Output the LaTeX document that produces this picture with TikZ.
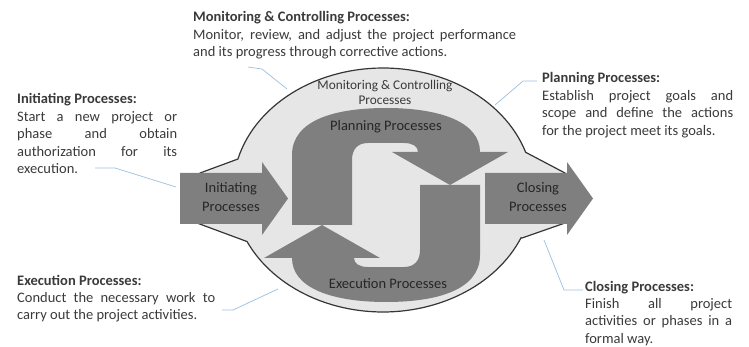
\documentclass[tikz,border=0pt]{standalone}
\usepackage{fontspec}
\setmainfont{Carlito}
\usepackage{xcolor}
\definecolor{blobgray}{HTML}{E6E6E6}
\definecolor{arrowgray}{HTML}{7F7F7F}
\definecolor{edgegray}{HTML}{363636}
\definecolor{pinblue}{HTML}{9DBEDD}
\definecolor{inkgray}{HTML}{3A3A3A}
\usepackage{tikz}
\usetikzlibrary{positioning}
\tikzset{blob/.style={fill=blobgray, draw=edgegray, line width=1.2pt, line join=round}}
\tikzset{fatarrow/.style={fill=arrowgray}}
\tikzset{pinline/.style={draw=pinblue, line width=0.7pt}}
\tikzset{note/.style={anchor=base west, inner sep=0pt, align=justify, text=inkgray,
  font=\fontsize{14.5}{17.4}\selectfont}}
\tikzset{arrowtext/.style={align=center, inner sep=0pt, text=black!85,
  font=\fontsize{14.5}{19}\selectfont}}

\begin{document}
\begin{tikzpicture}[x=1pt,y=-1pt]
\useasboundingbox (0,0) rectangle (749,347);

% the gray cycle area
\draw[blob] (200,173) -- (238,159)
  -- plot[domain=165:18,samples=60] ({383+150*cos(\x)},{190-122*sin(\x)})
  -- (565,173) -- (565,223) -- (522,238)
  -- plot[domain=-23:-155,samples=60] ({383+150*cos(\x)},{190-122*sin(\x)})
  -- (197,223) -- cycle;

% in and out arrows
\foreach \sx in {180,485}
  \fill[fatarrow] (\sx,173) -- ({\sx+82},173) -- ({\sx+82},162) -- ({\sx+108},198.5)
    -- ({\sx+82},235) -- ({\sx+82},224) -- (\sx,224) -- cycle;

% planning / execution loop
\foreach \turn in {0,180}
  \fill[fatarrow, rotate around={\turn:(386,205)}] (292,225) -- (292,155)
    .. controls (292,120) and (335,108) .. (386,108)
    .. controls (440,108) and (480,122) .. (480,152)
    -- (508,152) -- (450,185) -- (392,152) -- (418,152)
    .. controls (418,146) and (412,143) .. (404,143) -- (368,143)
    .. controls (357,143) and (352,150) .. (352,160) -- (352,225) -- cycle;

\node[arrowtext] (initiating) at (231,197) {Initiating\\Processes};
\node[arrowtext] (closing) at (538,197) {Closing\\Processes};
\node[arrowtext] (planning) at (386,127) {Planning Processes};
\node[arrowtext] (execution) at (388,284) {Execution Processes};
\node[align=center, inner sep=0pt, text=inkgray, font=\fontsize{13.3}{15}\selectfont]
  (monitoring) at (385,92) {Monitoring \& Controlling\\Processes};

% notes
\node[note, text width=323pt] (monnote) at (193,22)
  {\textbf{Monitoring \& Controlling Processes:}\par
   Monitor, review, and adjust the project performance\linebreak
   and its progress through corrective actions.};
\node[note, text width=160pt] (initnote) at (17,104)
  {\textbf{Initiating Processes:}\par
   Start a new project or\linebreak phase and obtain\linebreak
   authorization for its\linebreak execution.};
\node[note, text width=191pt] (plannote) at (542,83)
  {\textbf{Planning Processes:}\par
   Establish project goals and\linebreak scope and define the actions\linebreak
   for the project meet its goals.};
\node[note, text width=198pt] (execnote) at (17,285)
  {\textbf{Execution Processes:}\par
   Conduct the necessary work to\linebreak carry out the project activities.};
\node[note, text width=147pt] (closenote) at (585,291)
  {\textbf{Closing Processes:}\par
   Finish all project\linebreak activities or phases in a\linebreak formal way.};

% callout lines
\coordinate (mon1) at (248,67);
\coordinate (mon2) at (262,69);
\coordinate (mon3) at (287,89);
\coordinate (init1) at (95,168);
\coordinate (init2) at (115,168);
\coordinate (init3) at (176,187);
\coordinate (plan1) at (537,81);
\coordinate (plan2) at (523,81);
\coordinate (plan3) at (495,105);
\coordinate (exec1) at (222,310);
\coordinate (exec2) at (233,310);
\coordinate (exec3) at (278,289);
\coordinate (close1) at (583,290);
\coordinate (close2) at (564,290);
\coordinate (close3) at (544,240);
\draw[pinline] (mon1) -- (mon2) -- (mon3);
\draw[pinline] (init1) -- (init2) -- (init3);
\draw[pinline] (plan1) -- (plan2) -- (plan3);
\draw[pinline] (exec1) -- (exec2) -- (exec3);
\draw[pinline] (close1) -- (close2) -- (close3);
\end{tikzpicture}
\end{document}
